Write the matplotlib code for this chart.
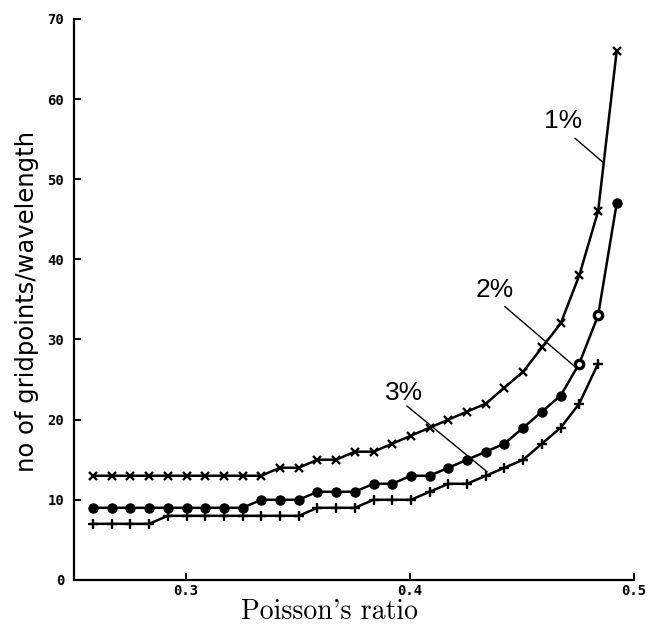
import numpy as np
import matplotlib
matplotlib.use("Agg")
import matplotlib.pyplot as plt

# poisson's ratio sample points
nu = [0.2585, 0.2669, 0.2752, 0.2836, 0.2919, 0.3003, 0.3086, 0.3170,
      0.3253, 0.3337, 0.3420, 0.3504, 0.3587, 0.3671, 0.3754, 0.3838,
      0.3921, 0.4005, 0.4088, 0.4172, 0.4255, 0.4339, 0.4422, 0.4506,
      0.4589, 0.4673, 0.4756, 0.4840, 0.4923]

err1 = [13, 13, 13, 13, 13, 13, 13, 13, 13, 13, 14, 14, 15, 15, 16, 16,
        17, 18, 19, 20, 21, 22, 24, 26, 29, 32, 38, 46, 66]
err2 = [9, 9, 9, 9, 9, 9, 9, 9, 9, 10, 10, 10, 11, 11, 11, 12,
        12, 13, 13, 14, 15, 16, 17, 19, 21, 23, 27, 33, 47]
err3 = [7, 7, 7, 7, 8, 8, 8, 8, 8, 8, 8, 8, 9, 9, 9, 10,
        10, 10, 11, 12, 12, 13, 14, 15, 17, 19, 22, 27]

xticks = [0.3, 0.4, 0.5]
xticklabels = ["0.3", "0.4", "0.5"]
yticks = [0, 10, 20, 30, 40, 50, 60, 70]

fig = plt.figure(figsize=(6.59, 6.29), dpi=100)
ax = fig.add_axes([0.112, 0.078, 0.85, 0.892])

lw = 1.8
ax.plot(nu, err1, color="black", lw=lw, marker="x", ms=6, mew=1.7)
ax.plot(nu, err2, color="black", lw=lw, marker="o", ms=6.5)
# the two ringed markers near the top of the 2% curve
ax.plot(nu[26:28], err2[26:28], ls="none", color="black", marker="o",
        ms=6, mfc="white", mew=2.4)
ax.plot(nu[:len(err3)], err3, color="black", lw=lw, marker="+", ms=7, mew=1.7)

# labels with leader lines
lab_font = dict(fontsize=19, family="Liberation Sans", ha="center", va="center")
ax.text(0.4683, 57.2, "1%", **lab_font)
ax.plot([0.4737, 0.4862], [55.1, 52.1], color="black", lw=1.0)
ax.text(0.4379, 36.2, "2%", **lab_font)
ax.plot([0.4424, 0.4737], [34.1, 26.6], color="black", lw=1.0)
ax.text(0.3973, 23.3, "3%", **lab_font)
ax.plot([0.3987, 0.4344], [21.7, 13.5], color="black", lw=1.0)

ax.set_xlim(0.25, 0.5)
ax.set_ylim(0, 70)
ax.spines["top"].set_visible(False)
ax.spines["right"].set_visible(False)
ax.spines["left"].set_linewidth(1.6)
ax.spines["bottom"].set_linewidth(1.6)

ax.set_xticks(xticks)
ax.set_xticklabels(xticklabels)
ax.set_yticks(yticks)
ax.set_yticklabels([str(v) for v in yticks])
ax.tick_params(direction="in", length=5, width=1.4)
ax.tick_params(axis="x", pad=3)
ax.tick_params(axis="y", pad=7)
for t in ax.get_xticklabels() + ax.get_yticklabels():
    t.set_family("DejaVu Sans Mono")
    t.set_fontweight("bold")
    t.set_fontsize(10)

fig.text(0.041, 0.52, "no of gridpoints/wavelength", rotation=90,
         ha="center", va="center", fontsize=17.5, family="DejaVu Sans")
fig.text(0.50, 0.027, "Poisson's ratio", ha="center", va="center",
         fontsize=20, family="cmr10")

fig.savefig("out.png", dpi=100)
